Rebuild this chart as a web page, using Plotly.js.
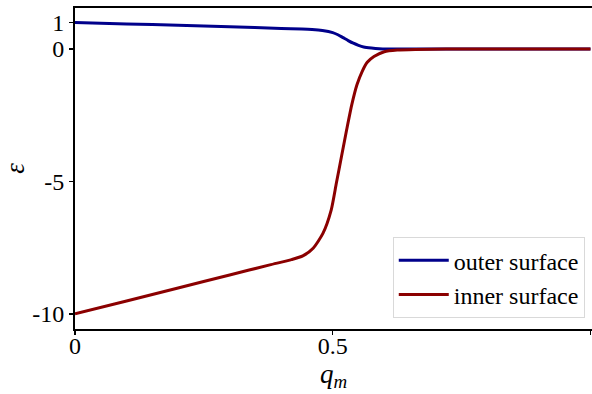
<!DOCTYPE html>
<html>
<head>
<meta charset="utf-8">
<script src="https://cdn.plot.ly/plotly-3.0.1.min.js"></script>
<style>html,body{margin:0;padding:0;background:#fff;overflow:hidden}#chart{width:592px;height:394px}</style>
</head>
<body>
<div id="chart"></div>
<script>
// Data
const qOuter = [0, 0.1, 0.2, 0.3, 0.4, 0.44, 0.46, 0.48, 0.50, 0.51, 0.52, 0.53, 0.54, 0.55, 0.56, 0.575, 0.59, 0.61, 0.64, 0.7, 0.8, 0.9, 1.0];
const epsOuter = [1.0, 0.95, 0.9, 0.84, 0.78, 0.76, 0.74, 0.70, 0.62, 0.54, 0.43, 0.32, 0.22, 0.14, 0.08, 0.04, 0.015, 0.005, 0, 0, 0, 0, 0];
const qInner = [0, 0.1, 0.2, 0.3, 0.378, 0.42, 0.442, 0.462, 0.481, 0.497, 0.507, 0.517, 0.527, 0.537, 0.547, 0.557, 0.567, 0.58, 0.6, 0.625, 0.66, 0.72, 0.8, 0.9, 1.0];
const epsInner = [-10, -9.51, -9.02, -8.53, -8.15, -7.95, -7.81, -7.52, -6.96, -6.08, -5.07, -4.06, -3.05, -2.1, -1.35, -0.85, -0.5, -0.28, -0.1, -0.04, -0.015, 0, 0, 0, 0];
const seriesNames = ["outer surface", "inner surface"];
const xTickVals = [0, 0.5, 1];
const xTickText = ["0", "0.5", "1"];
const yTickVals = [1, 0, -5, -10];
const yTickText = ["1", "0", "-5", "-10"];

const serif = "Liberation Serif, DejaVu Serif, serif";

const traces = [
  {x: qOuter, y: epsOuter, name: seriesNames[0], mode: "lines",
   line: {color: "#00008B", width: 3, shape: "spline", smoothing: 0.6}},
  {x: qInner, y: epsInner, name: seriesNames[1], mode: "lines",
   line: {color: "#8B0000", width: 3, shape: "spline", smoothing: 0.6}}
];

const layout = {
  width: 592, height: 394,
  margin: {l: 75, r: 0, t: 8, b: 65},
  paper_bgcolor: "#fff", plot_bgcolor: "#fff",
  font: {family: serif, size: 24, color: "#000"},
  showlegend: true,
  legend: {x: 0.986, y: 0.034, xanchor: "right", yanchor: "bottom",
           bgcolor: "#fff", bordercolor: "#d9d9d9", borderwidth: 1,
           itemwidth: 50,
           font: {family: serif, size: 24, color: "#000"}},
  xaxis: {range: [0, 1.003], tickvals: xTickVals, ticktext: xTickText,
          showgrid: false, zeroline: false, showline: true, linecolor: "#000", linewidth: 2,
          mirror: true, ticks: "", ticklabelstandoff: -6,
          minor: {tickvals: xTickVals, ticks: "outside", ticklen: 4, tickwidth: 1.5, tickcolor: "#000", showgrid: false},
          title: {text: "<i>q</i><sub><i>m</i></sub>", font: {family: serif, size: 27}, standoff: 6},
          automargin: false},
  yaxis: {range: [-10.57, 1.55], tickvals: yTickVals, ticktext: yTickText,
          showgrid: false, zeroline: false, showline: true, linecolor: "#000", linewidth: 2,
          mirror: false, ticks: "outside", ticklen: 4, tickwidth: 1.5, tickcolor: "#000",
          title: {text: "<i>ε</i>", font: {family: serif, size: 27}, standoff: 12},
          automargin: false}
};

Plotly.newPlot("chart", traces, layout, {staticPlot: true, displayModeBar: false});
</script>
</body>
</html>
